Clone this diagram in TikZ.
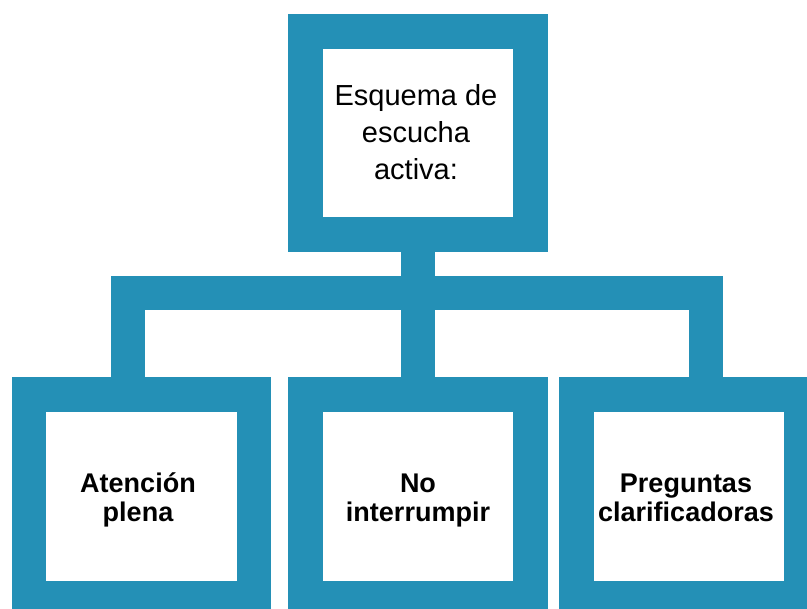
\documentclass[tikz,border=0pt]{standalone}
\usepackage{fontspec}
\setmainfont{Liberation Sans}
\definecolor{boxblue}{RGB}{36,144,182}
\begin{document}
\begin{tikzpicture}[x=1pt,y=-1pt,
  frame/.style={draw=boxblue,line width=34.5pt,fill=white,minimum width=225pt,minimum height=#1,inner sep=0pt},
  conn/.style={draw=boxblue,line width=34.5pt,line join=miter},
  toptext/.style={font=\fontsize{29}{37}\selectfont,align=center,inner sep=0pt,anchor=base},
  leaftext/.style={font=\fontsize{27}{29}\selectfont\bfseries,align=center,inner sep=0pt,anchor=base}]
\useasboundingbox (0,0) rectangle (807,609);
\clip (0,0) rectangle (807,609);
\node[frame=203pt] (top) at (418,133) {};
\node[frame=204pt] (left) at (141.5,496.5) {};
\node[frame=204pt] (mid) at (418,496.5) {};
\node[frame=204pt] (right) at (689,496.5) {};
\draw[conn] (top.south) -- (mid.north);
\draw[conn] ([xshift=-13.5pt]left.north) -- ++(0,-84) -| ([xshift=17pt]right.north);
\node[toptext] (t0) at (416,180) {Esquema de\\escucha\\activa:};
\node[leaftext] (t1) at (138,522) {Atención\\plena};
\node[leaftext] (t2) at (418,522) {No\\interrumpir};
\node[leaftext] (t3) at (686,522) {Preguntas\\clarificadoras};
\end{tikzpicture}
\end{document}
